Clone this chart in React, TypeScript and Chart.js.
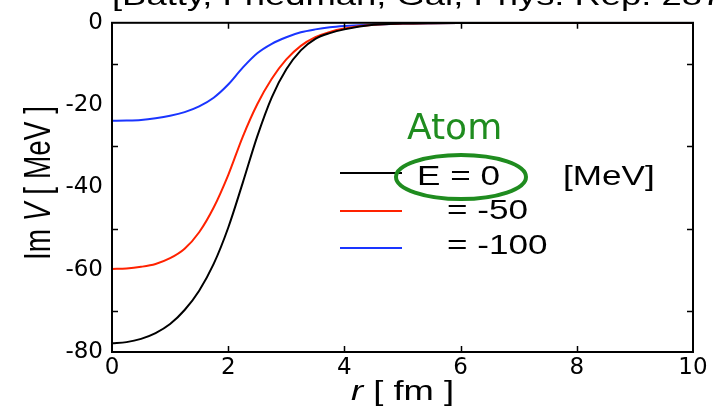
import React, { useEffect, useRef } from 'react';
import { Chart, registerables } from 'chart.js';

Chart.register(...registerables);

// ---- data ----
const rValues = [0, 0.25, 0.5, 0.75, 1, 1.25, 1.5, 1.75, 2, 2.25, 2.5, 2.75, 3, 3.25, 3.5, 3.75, 4, 4.5, 5, 5.5, 6, 7, 8, 9, 10];
const imV_E0 = [-77.9, -77.6, -76.8, -75.4, -73.2, -69.8, -65.1, -58.6, -49.8, -38.9, -27.6, -18.1, -11.3, -6.7, -3.9, -2.5, -1.6, -0.5, -0.2, -0.08, -0.03, 0, 0, 0, 0];
const imV_Em50 = [-59.8, -59.7, -59.3, -58.6, -57.2, -54.9, -50.9, -44.9, -37.0, -27.7, -19.8, -13.6, -8.9, -5.6, -3.5, -2.2, -1.4, -0.5, -0.2, -0.08, -0.03, 0, 0, 0, 0];
const imV_Em100 = [-23.8, -23.75, -23.6, -23.2, -22.6, -21.7, -20.3, -18.2, -15.0, -10.9, -7.4, -5.1, -3.5, -2.3, -1.6, -1.1, -0.8, -0.4, -0.2, -0.08, -0.03, 0, 0, 0, 0];

const seriesLabels = ['E = 0', '= -50', '= -100'];
const seriesColors = ['#000000', '#ff2200', '#1a35ff'];
const seriesValues = [imV_E0, imV_Em50, imV_Em100];

const xMin = 0;
const xMax = 10;
const xStep = 2;
const yMin = -80;
const yMax = 0;
const yStep = 10;
const yLabelEvery = 20;

const titleText = '[Batty, Friedman, Gal, Phys. Rep. 287 (1997) 385]';
const unitText = '[MeV]';
const atomText = 'Atom';
const xTitleParts = [
  { t: 'r', italic: true },
  { t: ' [ fm ]', italic: false },
];
const yTitleParts = [
  { t: 'Im ', italic: false },
  { t: 'V', italic: true },
  { t: ' [ MeV ]', italic: false },
];

// ---- drawing helpers ----
const STRETCH = 1.3;
const SANS = '"Liberation Sans", Arial, sans-serif';
const GREEN = '#1f8c1f';

function drawParts(ctx: CanvasRenderingContext2D, parts: { t: string; italic: boolean }[], size: number) {
  const fonts = parts.map((p) => `${p.italic ? 'italic ' : ''}${size}px ${SANS}`);
  let total = 0;
  const widths = parts.map((p, i) => {
    ctx.font = fonts[i];
    const w = ctx.measureText(p.t).width;
    total += w;
    return w;
  });
  ctx.save();
  ctx.scale(STRETCH, 1);
  let x = -total / 2;
  ctx.textBaseline = 'middle';
  ctx.textAlign = 'left';
  parts.forEach((p, i) => {
    ctx.font = fonts[i];
    ctx.fillText(p.t, x, 0);
    x += widths[i];
  });
  ctx.restore();
}

function stretchedText(ctx: CanvasRenderingContext2D, text: string, x: number, y: number, size: number, color: string, baseline: CanvasTextBaseline = 'middle') {
  ctx.save();
  ctx.font = `${size}px ${SANS}`;
  ctx.fillStyle = color;
  ctx.textBaseline = baseline;
  ctx.textAlign = 'left';
  ctx.translate(x, y);
  ctx.scale(STRETCH, 1);
  ctx.fillText(text, 0, 0);
  ctx.restore();
}

const framePlugin = {
  id: 'framePlugin',
  afterDatasetsDraw(chart: any) {
    const { ctx, chartArea } = chart;
    const { left, right, top, bottom } = chartArea;
    const xs = chart.scales.x;
    const ys = chart.scales.y;
    ctx.save();
    ctx.strokeStyle = '#000';
    ctx.lineWidth = 2;
    ctx.strokeRect(left, top, right - left, bottom - top);
    ctx.lineWidth = 1.5;
    const tl = 6;
    xs.ticks.forEach((t: any) => {
      if (t.value <= xMin || t.value >= xMax) return;
      const px = Math.round(xs.getPixelForValue(t.value)) + 0.5;
      ctx.beginPath();
      ctx.moveTo(px, bottom);
      ctx.lineTo(px, bottom - tl);
      ctx.moveTo(px, top);
      ctx.lineTo(px, top + tl);
      ctx.stroke();
    });
    ys.ticks.forEach((t: any) => {
      if (t.value % yLabelEvery === 0) return;
      const py = Math.round(ys.getPixelForValue(t.value)) + 0.5;
      ctx.beginPath();
      ctx.moveTo(left, py);
      ctx.lineTo(left + tl, py);
      ctx.moveTo(right, py);
      ctx.lineTo(right - tl, py);
      ctx.stroke();
    });
    ctx.restore();
  },
  afterDraw(chart: any) {
    const { ctx, chartArea } = chart;
    ctx.save();
    stretchedText(ctx, titleText, 112, 5, 28, '#000', 'alphabetic');

    ctx.fillStyle = '#000';
    ctx.save();
    ctx.translate((chartArea.left + chartArea.right) / 2, 392);
    drawParts(ctx, xTitleParts, 28);
    ctx.restore();

    ctx.save();
    ctx.translate(40, 183);
    ctx.rotate(-Math.PI / 2);
    ctx.scale(1 / STRETCH, STRETCH);
    drawParts(ctx, yTitleParts, 28);
    ctx.restore();

    const lineY = [173, 211, 248];
    const textX = [417, 447, 447];
    const textY = [178, 212, 247];
    seriesLabels.forEach((lab, i) => {
      ctx.save();
      ctx.strokeStyle = seriesColors[i];
      ctx.lineWidth = 2;
      ctx.beginPath();
      ctx.moveTo(340, lineY[i]);
      ctx.lineTo(402, lineY[i]);
      ctx.stroke();
      ctx.restore();
      stretchedText(ctx, lab, textX[i], textY[i], 27, '#000');
    });
    stretchedText(ctx, unitText, 563, 178, 27, '#000');

    ctx.fillStyle = GREEN;
    ctx.font = '36px "DejaVu Sans", sans-serif';
    ctx.textBaseline = 'middle';
    ctx.textAlign = 'left';
    ctx.fillText(atomText, 407, 130);
    ctx.strokeStyle = GREEN;
    ctx.lineWidth = 4;
    ctx.beginPath();
    ctx.ellipse(461, 177, 65, 22, 0, 0, Math.PI * 2);
    ctx.stroke();
    ctx.restore();
  },
};

export default function App() {
  const canvasRef = useRef<HTMLCanvasElement | null>(null);

  useEffect(() => {
    document.body.style.margin = '0';
    const canvas = canvasRef.current;
    if (!canvas) return;
    const chart = new Chart(canvas, {
      type: 'line',
      data: {
        datasets: seriesValues.map((vals, i) => ({
          label: seriesLabels[i],
          data: rValues.map((r, j) => ({ x: r, y: vals[j] })),
          borderColor: seriesColors[i],
          backgroundColor: seriesColors[i],
          borderWidth: 2,
          pointRadius: 0,
          fill: false,
          cubicInterpolationMode: 'monotone' as const,
        })),
      },
      options: {
        animation: false,
        responsive: false,
        maintainAspectRatio: false,
        layout: { padding: { top: 17, right: 22, left: 0, bottom: 0 } },
        plugins: {
          legend: { display: false },
          tooltip: { enabled: false },
          title: { display: false },
        },
        scales: {
          x: {
            type: 'linear',
            min: xMin,
            max: xMax,
            ticks: {
              stepSize: xStep,
              color: '#000',
              padding: 2,
              maxRotation: 0,
              font: { family: '"DejaVu Sans", sans-serif', size: 23 },
            },
            grid: { display: false, drawTicks: false },
            border: { display: false },
            afterFit: (s: any) => {
              s.height = 58;
            },
          },
          y: {
            type: 'linear',
            min: yMin,
            max: yMax,
            ticks: {
              stepSize: yStep,
              color: '#000',
              padding: 9,
              font: { family: '"DejaVu Sans", sans-serif', size: 23 },
              callback: (v: any) => (Number(v) % yLabelEvery === 0 ? String(v) : ''),
            },
            grid: { display: false, drawTicks: false },
            border: { display: false },
            afterFit: (s: any) => {
              s.width = 112;
            },
          },
        },
      },
      plugins: [framePlugin],
    });
    return () => chart.destroy();
  }, []);

  return (
    <div style={{ width: 715, height: 410, background: '#fff' }}>
      <canvas ref={canvasRef} width={715} height={410} />
    </div>
  );
}
